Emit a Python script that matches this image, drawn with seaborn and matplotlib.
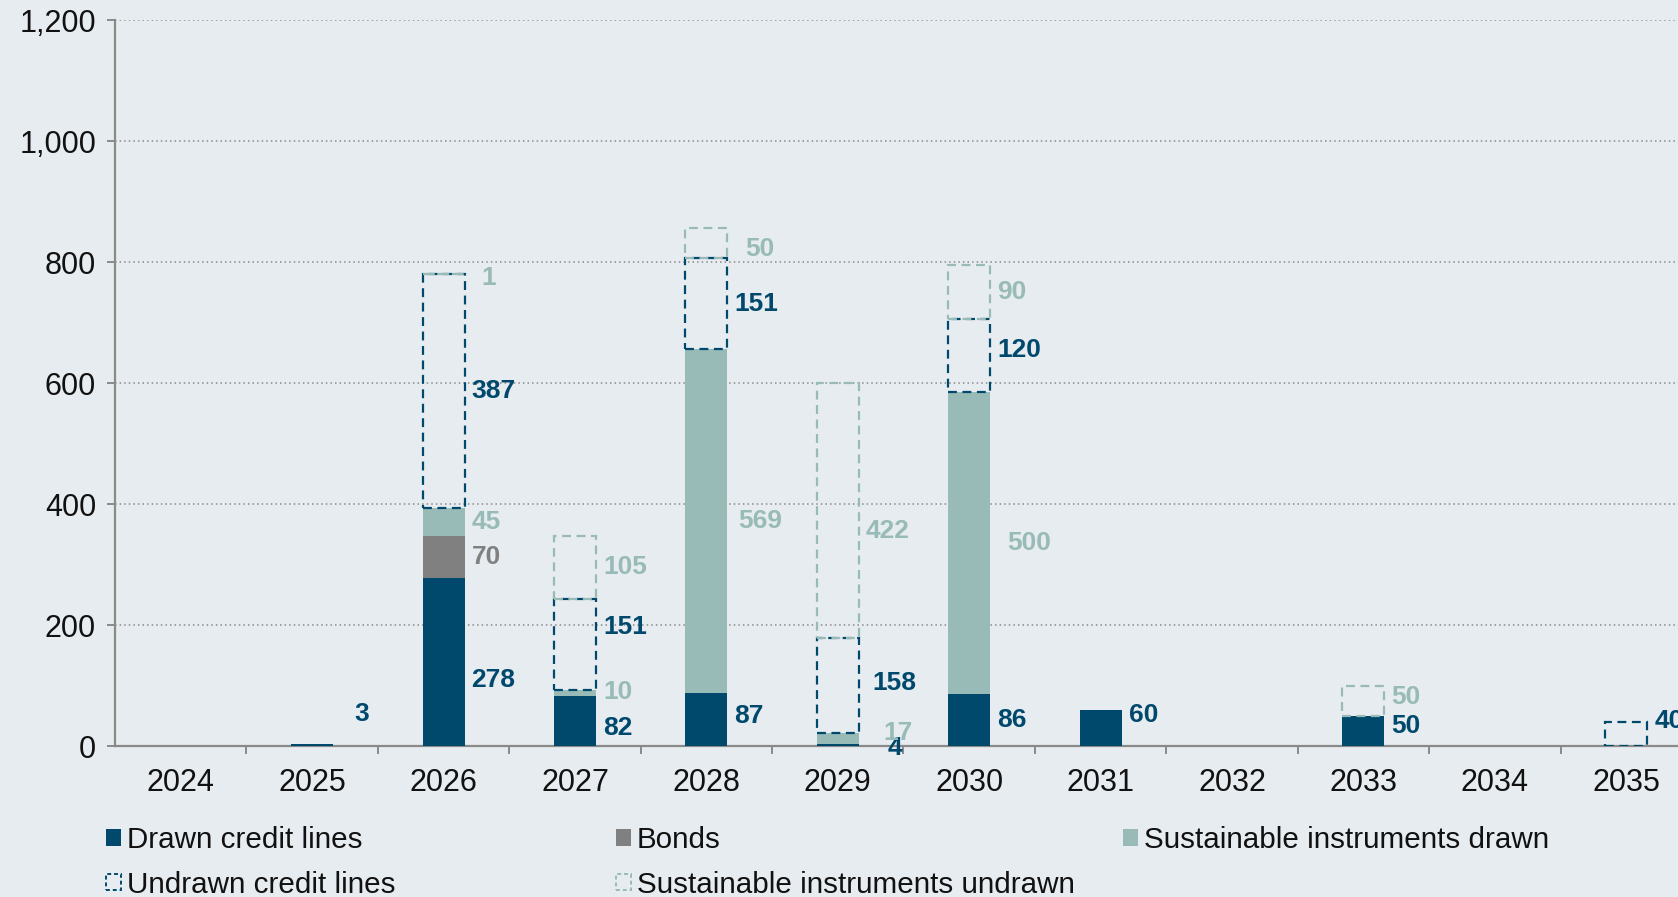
import numpy as np
import matplotlib
matplotlib.use("Agg")
import matplotlib.pyplot as plt
import seaborn as sns
from matplotlib.patches import Patch
from matplotlib.ticker import FuncFormatter

# Maturity profile (EUR m) by year
years = [2024, 2025, 2026, 2027, 2028, 2029, 2030, 2031, 2032, 2033, 2034, 2035]
drawn_credit = [0, 3, 278, 82, 87, 4, 86, 60, 0, 50, 0, 0]
bonds = [0, 0, 70, 0, 0, 0, 0, 0, 0, 0, 0, 0]
sustainable_drawn = [0, 0, 45, 10, 569, 17, 500, 0, 0, 0, 0, 0]
undrawn_credit = [0, 0, 387, 151, 151, 158, 120, 0, 0, 0, 0, 40]
sustainable_undrawn = [0, 0, 1, 105, 50, 422, 90, 0, 0, 50, 0, 0]
y_ticks = [0, 200, 400, 600, 800, 1000, 1200]

sns.set_theme(style="white")
plt.rcParams["font.family"] = ["Liberation Sans", "DejaVu Sans"]

BG = "#e7ecf0"
NAVY = "#00496d"
GREY = "#808080"
TEAL = "#98bbb7"
AXIS = "#8a8a8a"
TEXT = "#111111"
DASH = (0, (4, 2.5))
BAR_W = 0.32
FS_TICK = 22
FS_VAL = 19
FS_LEG = 21.3

fig = plt.figure(figsize=(16.78, 8.97), dpi=100, facecolor=BG)
ax = fig.add_axes([115 / 1678, 151 / 897, 1577 / 1678, 725.5 / 897])
ax.set_facecolor(BG)

cats = [str(y) for y in years]

series = [
    ("Drawn credit lines", drawn_credit, NAVY, True),
    ("Bonds", bonds, GREY, True),
    ("Sustainable instruments drawn", sustainable_drawn, TEAL, True),
    ("Undrawn credit lines", undrawn_credit, NAVY, False),
    ("Sustainable instruments undrawn", sustainable_undrawn, TEAL, False),
]

bottom = np.zeros(len(years))
seg_info = [[] for _ in years]  # per bar: (center, value, colour)
for name, vals, color, filled in series:
    vals = np.asarray(vals, dtype=float)
    idx = [i for i, v in enumerate(vals) if v > 0]
    if idx:
        kws = dict(
            x=[cats[i] for i in idx], y=vals[idx], order=cats,
            bottom=bottom[idx], width=BAR_W, ax=ax, color=color,
            saturation=1, errorbar=None, zorder=3,
        )
        if filled:
            sns.barplot(fill=True, linewidth=0, **kws)
        else:
            sns.barplot(fill=False, linewidth=1.6, linestyle=DASH, **kws)
    for i in idx:
        seg_info[i].append((bottom[i] + vals[i] / 2, vals[i], color))
    bottom += vals

# Value labels to the right of each segment, spread apart so they do not collide;
# individual labels get an extra (dx, dy) shift in points
nudges = {
    (2025, 0): (10, 5),
    (2026, 0): (0, -13),
    (2026, 4): (7, -3),
    (2027, 0): (0, -5),
    (2027, 2): (0, 13),
    (2028, 0): (0, 3),
    (2028, 1): (3, 0),
    (2028, 3): (8, -4),
    (2029, 0): (16, -20),
    (2029, 1): (13, -30),
    (2029, 2): (5, -15),
    (2029, 3): (0, -15),
    (2030, 1): (7, 0),
    (2030, 2): (0, 4),
    (2030, 4): (8, 0),
    (2031, 0): (0, 4),
    (2033, 0): (0, -4),
    (2033, 1): (0, -4),
}
for i, segs in enumerate(seg_info):
    prev = None
    for k, (center, val, color) in enumerate(segs):
        ypos = max(center, 42) if prev is None else max(center, prev + 48)
        prev = ypos
        dx, dy = nudges.get((years[i], k), (0, 0))
        ax.annotate(
            f"{int(val):,}", xy=(i + BAR_W / 2, ypos), xytext=(5 + dx, dy),
            textcoords="offset points", ha="left", va="center",
            fontsize=FS_VAL, fontweight="bold", color=color, zorder=5,
        )

ax.set_xlim(-0.5, len(years) - 0.5)
ax.set_ylim(0, 1200)
ax.set_yticks(y_ticks)
ax.yaxis.set_major_formatter(FuncFormatter(lambda v, _: f"{int(v):,}"))
ax.set_xticks(range(len(years)))
ax.set_xticklabels(cats)
ax.set_xticks(np.arange(0.5, len(years) - 0.5, 1), minor=True)
ax.set_xlabel("")
ax.set_ylabel("")

ax.yaxis.grid(True, linestyle=(0, (1, 2)), color=AXIS, linewidth=1.1, zorder=0)
ax.xaxis.grid(False)
ax.set_axisbelow(True)

for s in ["top", "right"]:
    ax.spines[s].set_visible(False)
for s in ["left", "bottom"]:
    ax.spines[s].set_color(AXIS)
    ax.spines[s].set_linewidth(1.6)

ax.tick_params(axis="x", which="major", length=0, pad=16, labelsize=FS_TICK, labelcolor=TEXT)
ax.tick_params(axis="x", which="minor", length=6, width=1.4, color=AXIS, bottom=True)
ax.tick_params(axis="y", which="major", length=6, width=1.4, color=AXIS, pad=7.6,
               labelsize=FS_TICK, labelcolor=TEXT, left=True)

# Legend laid out in three columns below the plot
solid = lambda c: Patch(facecolor=c, edgecolor="none")
outline = lambda c: Patch(facecolor="none", edgecolor=c, linestyle=(0, (2, 1.5)), linewidth=1.4)
columns = [
    (106, [(solid(NAVY), series[0][0]), (outline(NAVY), series[3][0])]),
    (616, [(solid(GREY), series[1][0]), (outline(TEAL), series[4][0])]),
    (1123, [(solid(TEAL), series[2][0])]),
]
for x0, entries in columns:
    fig.legend(
        handles=[h for h, _ in entries], labels=[l for _, l in entries],
        loc="upper left", bbox_to_anchor=(x0 / 1678, 1 - 826 / 897),
        frameon=False, fontsize=FS_LEG, handlelength=0.5, handleheight=0.5,
        handletextpad=0.2, labelspacing=0.56, borderpad=0, borderaxespad=0,
        labelcolor=TEXT,
    )

fig.savefig("out.png", dpi=100, facecolor=BG)
